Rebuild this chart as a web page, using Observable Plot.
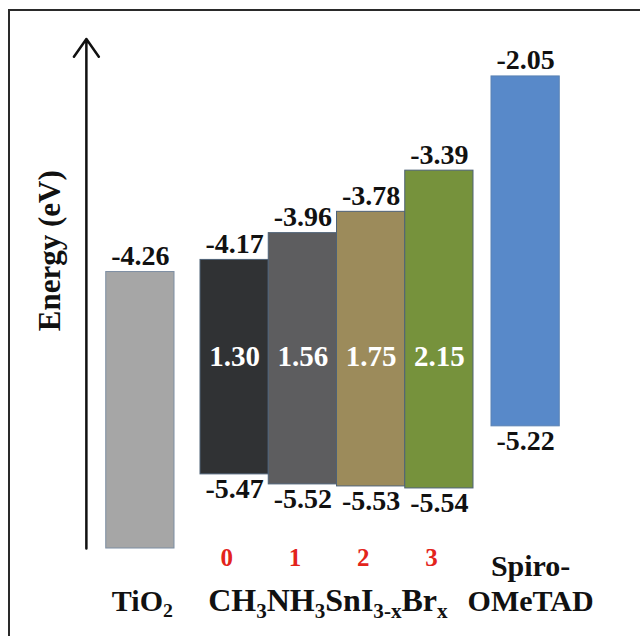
<!DOCTYPE html>
<html>
<head>
<meta charset="utf-8">
<script src="https://cdn.jsdelivr.net/npm/d3@7"></script>
<script src="https://cdn.jsdelivr.net/npm/@observablehq/plot@0.6"></script>
<style>
  html, body { margin: 0; padding: 0; background: #fff; }
  #wrap { position: relative; width: 640px; height: 636px; overflow: hidden; }
  #border { position: absolute; left: 8px; top: 9px; right: -4px; bottom: -4px;
            border-left: 2px solid #2a2a2a; border-top: 2px solid #2a2a2a; pointer-events: none; }
  svg { display: block; }
</style>
</head>
<body>
<div id="wrap"><div id="chart"></div><div id="border"></div></div>
<script>
// ---- data ----
const materials = ["TiO2", "0", "1", "2", "3", "Spiro"];
const conductionBand = [-4.26, -4.17, -3.96, -3.78, -3.39, -2.05]; // CB / LUMO (eV)
const valenceBand = [null, -5.47, -5.52, -5.53, -5.54, -5.22];     // VB / HOMO (eV)
const tio2Bottom = -5.825;                                           // TiO2 bar runs to the bottom of the drawn range (unlabelled)
const vacuumLevel = 0;                                               // arrow tip
const materialLabels = ["TiO_{2}", "0", "1", "2", "3", "Spiro-\nOMeTAD"];
const perovskiteFormula = "CH_{3}NH_{3}SnI_{3-x}Br_{x}";
const yLabel = "Energy (eV)";

// ---- styles ----
const fills = ["#a6a6a6", "#303234", "#5d5d5f", "#9c8b5b", "#76923c", "#5889c9"];
const strokes = ["#7d8ea3", "#4e6277", "#4e6277", "#4e6277", "#4e6277", "#5a82b4"];
const FONT = "'Liberation Serif', 'Times New Roman', serif";

const rows = materials.map((m, i) => ({
  m, i,
  top: conductionBand[i],
  bottom: valenceBand[i] ?? tio2Bottom,
  hasBottom: valenceBand[i] != null
}));

const perov = rows.filter(r => ["0", "1", "2", "3"].includes(r.m));
// band-gap labels sit in the middle of the range shared by all four perovskite bars
const gapY = (d3.min(perov, r => r.top) + d3.max(perov, r => r.bottom)) / 2;

function group(data, dx) {
  return [
    Plot.barY(data, {x: "m", y1: "bottom", y2: "top", fill: d => fills[d.i], stroke: d => strokes[d.i], strokeWidth: 1, dx}),
    Plot.text(data, {x: "m", y: "top", text: d => d.top.toFixed(2), lineAnchor: "bottom", dy: -7, dx,
      fontSize: 28, fontWeight: "bold", fill: "#111"}),
    Plot.text(data.filter(d => d.hasBottom), {x: "m", y: "bottom", text: d => d.bottom.toFixed(2), lineAnchor: "top", dy: 4, dx,
      fontSize: 28, fontWeight: "bold", fill: "#111"})
  ];
}

const chart = Plot.plot({
  width: 640,
  height: 636,
  marginLeft: 131.75,
  marginRight: 98.75,
  marginTop: 38.5,
  marginBottom: 88,
  style: {fontFamily: FONT, background: "transparent", color: "#111"},
  x: {domain: materials, padding: 0, axis: null, round: false},
  // schematic energy axis (no ticks): a power scale reproduces the figure's spacing
  y: {type: "pow", exponent: 2.5, domain: [tio2Bottom, vacuumLevel], axis: null},
  marks: [
    Plot.arrow([0], {x1: () => "TiO2", x2: () => "TiO2", y1: () => tio2Bottom, y2: () => vacuumLevel,
      dx: -80, stroke: "#111", strokeWidth: 2.5, headLength: 13, headAngle: 70, inset: 0}),
    ...group(rows.filter(r => r.m === "TiO2"), -26),
    ...group(perov, 0),
    ...group(rows.filter(r => r.m === "Spiro"), 18),
    Plot.text(perov, {x: "m", y: () => gapY, text: d => (d.top - d.bottom).toFixed(2),
      fill: "#fff", fontSize: 29, fontWeight: "bold"}),
    Plot.text(perov, {x: "m", text: d => materialLabels[d.i], frameAnchor: "bottom", lineAnchor: "bottom",
      textAnchor: "middle", dy: 17, dx: -8, fill: "#e3241b", fontSize: 25, fontWeight: "bold"}),
    Plot.text([materialLabels[0]], {x: () => "TiO2", text: d => d, frameAnchor: "bottom", lineAnchor: "bottom",
      textAnchor: "middle", dy: 62, dx: -24, fontSize: 30, fontWeight: "bold"}),
    Plot.text([perovskiteFormula], {x: () => "1", text: d => d, frameAnchor: "bottom", lineAnchor: "bottom",
      textAnchor: "middle", dy: 62, dx: 25, fontSize: 32, fontWeight: "bold"}),
    Plot.text([materialLabels[5]], {x: () => "Spiro", text: d => d, frameAnchor: "bottom", lineAnchor: "bottom",
      textAnchor: "middle", dy: 62, dx: 23, fontSize: 30, fontWeight: "bold", lineHeight: 1.15}),
    Plot.text([yLabel], {frameAnchor: "left", text: d => d, rotate: -90, textAnchor: "middle", lineAnchor: "middle",
      dx: -82, dy: -43, fontSize: 31, fontWeight: "bold"})
  ]
});

// turn "_{...}" into real subscripts
function subscriptify(svg) {
  const NS = "http://www.w3.org/2000/svg";
  svg.querySelectorAll("text").forEach(t => {
    if (t.querySelector("tspan")) return;
    const s = t.textContent;
    if (!s.includes("_{")) return;
    const base = parseFloat(getComputedStyle(t).fontSize) || 30;
    const shift = base * 0.22;
    t.textContent = "";
    let isSub = false;
    const add = (str, sub) => {
      const ts = document.createElementNS(NS, "tspan");
      ts.textContent = str;
      if (sub) ts.setAttribute("font-size", (base * 0.66).toFixed(1));
      if (sub && !isSub) ts.setAttribute("dy", shift);
      if (!sub && isSub) ts.setAttribute("dy", -shift);
      isSub = sub;
      t.appendChild(ts);
    };
    const re = /_\{([^}]*)\}/g;
    let last = 0, m;
    while ((m = re.exec(s))) {
      if (m.index > last) add(s.slice(last, m.index), false);
      add(m[1], true);
      last = re.lastIndex;
    }
    if (last < s.length) add(s.slice(last), false);
  });
}

document.getElementById("chart").appendChild(chart);
subscriptify(chart);
</script>
</body>
</html>
